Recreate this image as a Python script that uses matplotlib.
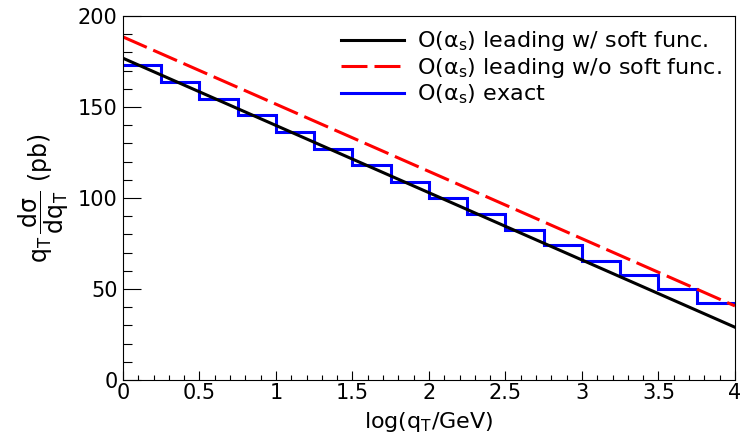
import matplotlib
matplotlib.use("Agg")
import matplotlib.pyplot as plt
import numpy as np
from matplotlib.ticker import MultipleLocator

plt.rcParams['font.family'] = ['DejaVu Sans']
plt.rcParams['mathtext.fontset'] = 'dejavusans'

# straight-line predictions (endpoints at log(qT)=0 and 4)
x_line = [0.0, 4.0]
leading_soft = [176.8, 29.0]
leading_nosoft = [188.5, 40.7]

# exact O(alpha_s) histogram, 16 bins of width 0.25
bin_edges = np.linspace(0, 4, 17)
exact = [172.9, 163.9, 154.6, 145.4, 136.3, 127.1, 118.1, 109.0,
         100.0, 91.4, 82.6, 74.2, 65.6, 57.7, 49.8, 42.5]

fig = plt.figure(figsize=(7.4, 4.44), dpi=100)
ax = fig.add_axes([0.1662, 0.1441, 0.8270, 0.8199])

ax.plot(x_line, leading_soft, color='black', lw=2.2,
        label=r'O($\mathrm{\alpha_s}$) leading w/ soft func.')
ax.plot(x_line, leading_nosoft, color='#ff0000', lw=2.2, dashes=(8.5, 2.3),
        label=r'O($\mathrm{\alpha_s}$) leading w/o soft func.')
ax.stairs(exact, bin_edges, baseline=None, color='#0000ff', lw=2.2,
          label=r'O($\mathrm{\alpha_s}$) exact')

ax.set_xlim(0, 4)
ax.set_ylim(0, 200)
ax.xaxis.set_minor_locator(MultipleLocator(0.1))
ax.yaxis.set_major_locator(MultipleLocator(50))
ax.yaxis.set_minor_locator(MultipleLocator(10))
ax.set_xticks(np.arange(0, 4.01, 0.5))
ax.set_xticklabels(['0', '0.5', '1', '1.5', '2', '2.5', '3', '3.5', '4'])

ax.tick_params(axis='both', which='both', direction='in', top=False, right=False,
               width=0.8, labelsize=15)
ax.tick_params(axis='y', which='major', length=13, pad=4)
ax.tick_params(axis='y', which='minor', length=6.5)
ax.tick_params(axis='x', which='major', length=6.5, pad=2)
ax.tick_params(axis='x', which='minor', length=3.6)
for s in ax.spines.values():
    s.set_linewidth(0.8)

ax.set_xlabel(r'log(q$_\mathrm{T}$/GeV)', fontsize=16, labelpad=5)
ax.set_ylabel(r'$\mathrm{q_T}\,\dfrac{\mathrm{d\sigma}}{\mathrm{dq_T}}$ (pb)',
              fontsize=17, labelpad=5)

ax.legend(loc='upper right', bbox_to_anchor=(1.0, 1.0), frameon=False, fontsize=16,
          handlelength=2.8, handletextpad=0.6, labelspacing=0.12, borderaxespad=0.2)

fig.savefig('out.png', dpi=100)
